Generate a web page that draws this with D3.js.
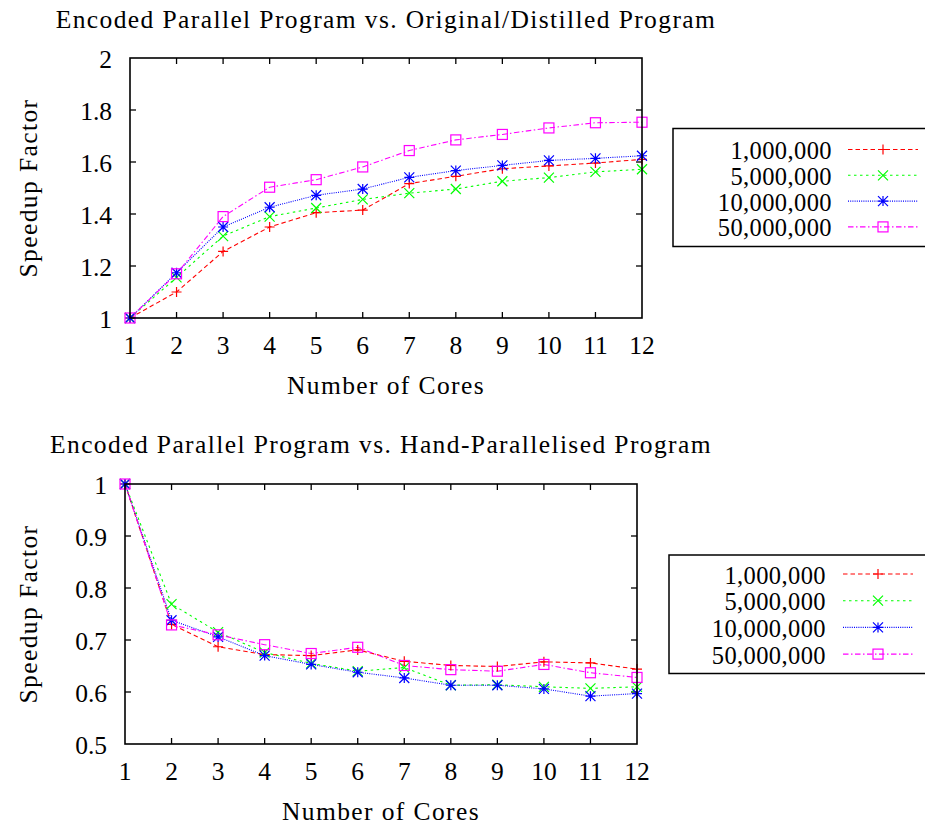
<!DOCTYPE html>
<html>
<head>
<meta charset="utf-8">
<script src="https://cdn.jsdelivr.net/npm/d3@7"></script>
<style>
  html, body { margin: 0; padding: 0; background: #fff; }
  svg { display: block; }
</style>
</head>
<body>
<svg id="chart" width="925" height="826"></svg>
<script>
// Number of cores on the x axis
const cores = [1, 2, 3, 4, 5, 6, 7, 8, 9, 10, 11, 12];

// Problem sizes (one series each)
const seriesNames = ["1,000,000", "5,000,000", "10,000,000", "50,000,000"];

// Speedup: encoded parallel vs. original/distilled program
const distilled1M  = [1.00, 1.10, 1.256, 1.35, 1.405, 1.415, 1.517, 1.545, 1.574, 1.585, 1.596, 1.61];
const distilled5M  = [1.00, 1.156, 1.315, 1.39, 1.423, 1.456, 1.48, 1.496, 1.526, 1.54, 1.562, 1.572];
const distilled10M = [1.00, 1.174, 1.35, 1.426, 1.472, 1.496, 1.541, 1.567, 1.587, 1.606, 1.614, 1.624];
const distilled50M = [1.00, 1.17, 1.39, 1.503, 1.532, 1.581, 1.644, 1.685, 1.706, 1.731, 1.751, 1.753];

// Speedup: encoded parallel vs. hand-parallelised program
const hand1M  = [1.00, 0.73, 0.687, 0.672, 0.670, 0.681, 0.659, 0.651, 0.649, 0.658, 0.656, 0.644];
const hand5M  = [1.00, 0.769, 0.715, 0.676, 0.655, 0.640, 0.647, 0.613, 0.614, 0.610, 0.607, 0.610];
const hand10M = [1.00, 0.738, 0.706, 0.670, 0.653, 0.638, 0.627, 0.613, 0.613, 0.606, 0.592, 0.597];
const hand50M = [1.00, 0.729, 0.710, 0.691, 0.674, 0.686, 0.651, 0.643, 0.640, 0.653, 0.637, 0.628];

// Y tick values for each panel
const topYTicks = [1, 1.2, 1.4, 1.6, 1.8, 2];
const bottomYTicks = [0.5, 0.6, 0.7, 0.8, 0.9, 1];

// Series styling (gnuplot-like terminal styles)
const styles = [
  { color: "#ff0000", dash: "4.5,3",        marker: "plus" },
  { color: "#00ff00", dash: "2.5,3.5",      marker: "cross" },
  { color: "#0000ff", dash: "1,1.2",        marker: "star" },
  { color: "#ff00ff", dash: "5.5,2.5,1.5,2.5", marker: "square" }
];

const FONT = "Liberation Serif";
const fontSize = 25.5;
const legendFontSize = 24.5;
const wordSpacing = 1.4;   // extra tracking for word labels

const svg = d3.select("#chart");

function label(g, x, y, txt, anchor, spacing, size) {
  const t = g.append("text").attr("x", x).attr("y", y)
    .attr("font-family", FONT).attr("font-size", size || fontSize)
    .attr("fill", "#000").attr("text-anchor", anchor).text(txt);
  if (spacing) t.attr("letter-spacing", spacing);
  return t;
}

function drawMarker(g, type, x, y, color) {
  const s = 5;
  const sw = 1.2;
  if (type === "plus") {
    g.append("path").attr("d", `M${x - s},${y}H${x + s}M${x},${y - s}V${y + s}`)
      .attr("stroke", color).attr("stroke-width", sw).attr("fill", "none");
  } else if (type === "cross") {
    g.append("path").attr("d", `M${x - s},${y - s}L${x + s},${y + s}M${x - s},${y + s}L${x + s},${y - s}`)
      .attr("stroke", color).attr("stroke-width", sw).attr("fill", "none");
  } else if (type === "star") {
    g.append("path").attr("d", `M${x - s},${y}H${x + s}M${x},${y - s}V${y + s}M${x - s},${y - s}L${x + s},${y + s}M${x - s},${y + s}L${x + s},${y - s}`)
      .attr("stroke", color).attr("stroke-width", sw).attr("fill", "none");
  } else if (type === "square") {
    g.append("rect").attr("x", x - s).attr("y", y - s).attr("width", 2 * s).attr("height", 2 * s)
      .attr("stroke", color).attr("stroke-width", sw).attr("fill", "none");
  }
}

function drawPanel(p) {
  const x = d3.scaleLinear().domain([1, 12]).range([p.left, p.right]);
  const y = d3.scaleLinear().domain(p.yDomain).range([p.bottom, p.top]);
  const g = svg.append("g");

  // Title
  label(g, (p.left + p.right) / 2, p.titleY, p.title, "middle", wordSpacing);

  // Ticks (inward, mirrored on opposite sides)
  const tickLen = 6;
  const tickG = g.append("g").attr("stroke", "#000").attr("stroke-width", 1.3);
  cores.forEach(c => {
    if (c === 1 || c === 12) return;
    tickG.append("line").attr("x1", x(c)).attr("x2", x(c)).attr("y1", p.bottom).attr("y2", p.bottom - tickLen);
    tickG.append("line").attr("x1", x(c)).attr("x2", x(c)).attr("y1", p.top).attr("y2", p.top + tickLen);
  });
  p.yTicks.forEach(v => {
    if (v === p.yDomain[0] || v === p.yDomain[1]) return;
    tickG.append("line").attr("x1", p.left).attr("x2", p.left + tickLen).attr("y1", y(v)).attr("y2", y(v));
    tickG.append("line").attr("x1", p.right).attr("x2", p.right - tickLen).attr("y1", y(v)).attr("y2", y(v));
  });

  // Tick labels
  cores.forEach(c => label(g, x(c), p.bottom + 35.5, String(c), "middle"));
  p.yTicks.forEach(v => label(g, p.left - 18, y(v) + 9.5, String(v), "end"));

  // Axis titles
  label(g, (p.left + p.right) / 2, p.xLabelY, "Number of Cores", "middle", wordSpacing);
  label(g, 0, 0, "Speedup Factor", "middle", wordSpacing)
    .attr("transform", `translate(36.5,${(p.top + p.bottom) / 2}) rotate(-90)`);

  // Series lines
  const line = d3.line().x((d, i) => x(cores[i])).y(d => y(d));
  p.series.forEach((vals, si) => {
    const st = styles[si];
    g.append("path").datum(vals).attr("d", line)
      .attr("fill", "none").attr("stroke", st.color).attr("stroke-width", 1.1)
      .attr("stroke-dasharray", st.dash);
  });
  // Point markers
  p.series.forEach((vals, si) => {
    const st = styles[si];
    vals.forEach((v, i) => drawMarker(g, st.marker, x(cores[i]), y(v), st.color));
  });

  // Frame
  g.append("rect").attr("x", p.left).attr("y", p.top)
    .attr("width", p.right - p.left).attr("height", p.bottom - p.top)
    .attr("fill", "none").attr("stroke", "#000").attr("stroke-width", 1.6);

  // Legend
  const L = p.legend;
  const lg = g.append("g");
  lg.append("rect").attr("x", L.x).attr("y", L.y)
    .attr("width", 300).attr("height", L.h)
    .attr("fill", "none").attr("stroke", "#000").attr("stroke-width", 1.5);
  seriesNames.forEach((name, si) => {
    const st = styles[si];
    const ry = L.rowY + si * L.step;
    label(lg, L.textX, ry + 9.5, name, "end", 0.4, legendFontSize);
    lg.append("line").attr("x1", L.lineX1).attr("x2", L.lineX2)
      .attr("y1", ry).attr("y2", ry)
      .attr("stroke", st.color).attr("stroke-width", 1.1).attr("stroke-dasharray", st.dash);
    drawMarker(lg, st.marker, (L.lineX1 + L.lineX2) / 2, ry, st.color);
  });
}

drawPanel({
  title: "Encoded Parallel Program vs. Original/Distilled Program",
  titleY: 28,
  xLabelY: 394,
  left: 130, right: 642, top: 58, bottom: 318,
  yDomain: [1, 2], yTicks: topYTicks,
  series: [distilled1M, distilled5M, distilled10M, distilled50M],
  legend: { x: 673, y: 128.5, h: 118, rowY: 149.5, step: 25.8, textX: 832, lineX1: 848, lineX2: 918 }
});

drawPanel({
  title: "Encoded Parallel Program vs. Hand-Parallelised Program",
  titleY: 453,
  xLabelY: 820,
  left: 125, right: 637, top: 484, bottom: 744,
  yDomain: [0.5, 1], yTicks: bottomYTicks,
  series: [hand1M, hand5M, hand10M, hand50M],
  legend: { x: 669, y: 555, h: 118.5, rowY: 574, step: 26.7, textX: 826, lineX1: 843, lineX2: 913 }
});
</script>
</body>
</html>
